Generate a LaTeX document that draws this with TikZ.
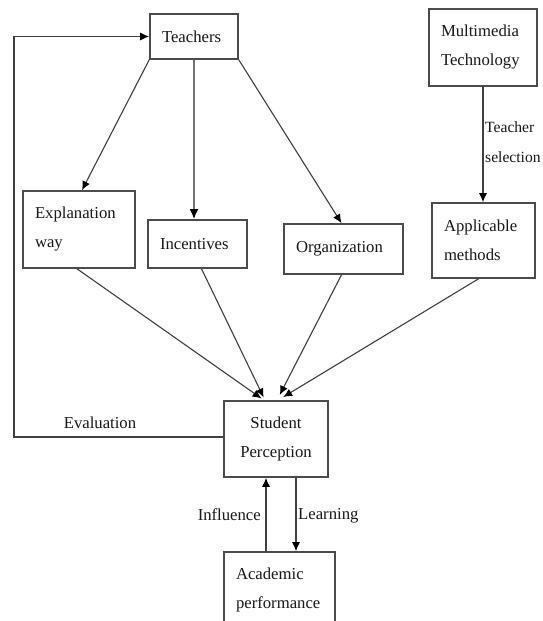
\documentclass[tikz,border=0pt]{standalone}
\usepackage{fontspec}
\setmainfont{Liberation Serif}
\usetikzlibrary{arrows.meta}
\begin{document}
\begin{tikzpicture}[x=1pt,y=-1pt,
  box/.style={draw=black!70,line width=1.6pt,fill=white,align=left,inner xsep=12pt,inner ysep=0pt,
    font=\fontsize{16.7}{29}\selectfont,text=black!90},
  cbox/.style={box,align=center},
  arr/.style={draw=black!75,line width=1.1pt,-{Latex[length=9pt,width=8pt,black]}},
  lbl/.style={font=\fontsize{16.7}{30}\selectfont,text=black!90,inner sep=0pt}]
\clip (0,0) rectangle (542,621);
\fill[white] (0,0) rectangle (542,621);
% boxes
\node[box,minimum width=88pt,minimum height=45pt,text width=64pt] (teach) at (194,36.5) {Teachers};
\node[box,minimum width=108pt,minimum height=77pt,text width=84pt] (mm) at (483,47.5) {Multimedia\\Technology};
\node[box,minimum width=112pt,minimum height=77pt,text width=88pt] (expl) at (79,229.5) {Explanation\\way};
\node[box,minimum width=99pt,minimum height=48pt,text width=75pt] (inc) at (197.5,244) {Incentives};
\node[box,minimum width=119pt,minimum height=50pt,text width=95pt] (org) at (343.5,249) {Organization};
\node[box,minimum width=103pt,minimum height=75pt,text width=79pt] (app) at (483.5,240.5) {Applicable\\methods};
\node[cbox,minimum width=104pt,minimum height=76pt,text width=80pt] (sp) at (276,439) {Student\\Perception};
\node[box,minimum width=111pt,minimum height=76pt,text width=87pt] (acad) at (279.5,590) {Academic\\performance};
% arrows from Teachers
\draw[arr] (teach.south west) -- ([xshift=3pt]expl.north);
\draw[draw=black!55,line width=2.6pt,-{Latex[length=10pt,width=9pt,black]}] (teach.south) -- (teach.south |- inc.north);
\draw[arr] (teach.south east) -- ([xshift=-2pt]org.north);
% Multimedia -> Applicable
\draw[arr] (mm.south) -- (mm.south |- app.north);
\node[lbl,anchor=west,align=left,font=\fontsize{15.6}{30}\selectfont] (ts) at (485,142) {Teacher\\selection};
% converging arrows
\draw[arr,shorten >=3pt] ([xshift=-2pt]expl.south) -- ([xshift=-12pt]sp.north);
\draw[arr,shorten >=3pt] ([xshift=4pt]inc.south) -- ([xshift=-11pt]sp.north);
\draw[arr,shorten >=6pt] ([xshift=-2pt]org.south) -- ([xshift=1pt]sp.north);
\draw[arr,shorten >=6pt] ([xshift=-5pt]app.south) -- ([xshift=2pt]sp.north);
% feedback
\coordinate (fb) at (14,437);
\draw[arr] (sp.west |- fb) -- (fb) |- (teach.west);
\node[lbl] (ev) at (100,423) {Evaluation};
% SP <-> Academic
\draw[arr] ([xshift=-13.5pt]acad.north) -- ([xshift=-13.5pt]acad.north |- sp.south);
\draw[arr] ([xshift=20pt]sp.south) -- ([xshift=20pt]sp.south |- acad.north);
\node[lbl,anchor=east] (infl) at (261,515) {Influence};
\node[lbl,anchor=west] (learn) at (298,516) {Learning};
\end{tikzpicture}
\end{document}
